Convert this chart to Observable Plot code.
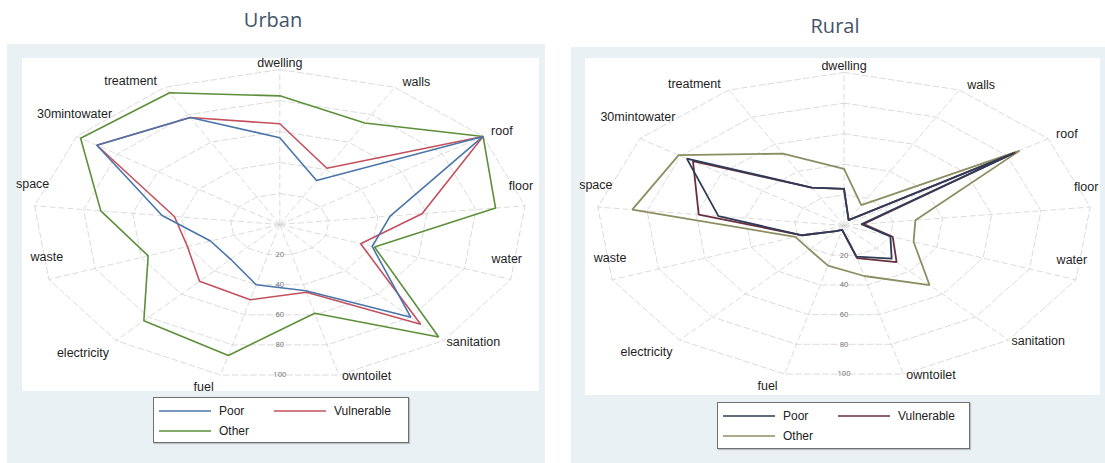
<!DOCTYPE html>
<html><head><meta charset="utf-8">
<script src="https://cdn.jsdelivr.net/npm/d3@7"></script>
<script src="https://cdn.jsdelivr.net/npm/@observablehq/plot@0.6"></script>
<style>
body{margin:0;background:#fff;width:1105px;height:463px;position:relative;overflow:hidden;font-family:"Liberation Sans",Arial,sans-serif;}
.title{position:absolute;font-family:"Open Sans",sans-serif;font-size:20px;color:#44546a;transform:translate(-50%,-50%);white-space:nowrap}
.panel{position:absolute;background:#eaf1f4;}
.plotbox{position:absolute;}
.legend{position:absolute;background:#fff;border:1px solid #707070;box-shadow:1px 1px 1px rgba(0,0,0,0.2);box-sizing:border-box}
</style></head><body>
<script>
// ---- data ----
const axes = ["dwelling","walls","roof","floor","water","sanitation","owntoilet","fuel","electricity","waste","space","30mintowater","treatment"];
const seriesNames = ["Poor","Vulnerable","Other"];
const ringTicks = [20,40,60,80,100];
const panelTitles = ["Urban","Rural"];

const urbanPoor       = [56,32,100,45,40,80,44,40,30,30,48,90,78];
const urbanVulnerable = [65,41,100,58,35,86,45,50,49,40,43,90,78];
const urbanOther      = [83,74,100,88,41,97,59,87,83,57,73,98,96];

const ruralPoor       = [24,4,83,7,20,29,21,3,5,18,51,77,28];
const ruralVulnerable = [24,4,84,8,21,32,22,3,5,18,59,74,28];
const ruralOther      = [37,15,86,29,30,52,34,27,21,21,86,81,53];

// ---- layout / styles ----
const layouts = [
  {bg:{left:7,top:44,width:538,height:419},
   plot:{left:21.7,top:58,width:517,height:333,ml:10.3,mr:12.7,mt:11,mb:12},
   title:{x:273,y:19},
   legend:{left:152.7,top:397.3,width:256,height:46},
   colors:["#4a75aa","#c4505e","#5c8f3a"], lw:1.6},
  {bg:{left:571,top:47,width:534,height:416},
   plot:{left:585,top:58,width:515,height:337,ml:10.5,mr:8.5,mt:14,mb:17},
   title:{x:835,y:25},
   legend:{left:716.7,top:401.7,width:253,height:47},
   colors:["#2f3b57","#6a2f3e","#8c8e62"], lw:1.8}
];
const labelStyles = {
  top:{textAnchor:"middle",dx:0,dy:-7},
  ur:{textAnchor:"start",dx:8,dy:-5},
  rside:{textAnchor:"middle",dx:-4,dy:-20},
  lr:{textAnchor:"start",dx:3,dy:1},
  ll:{textAnchor:"end",dx:-7,dy:12},
  lside:{textAnchor:"middle",dx:-2,dy:-22},
  ul:{textAnchor:"end",dx:-8,dy:-6}
};
function labelRule(deg){
  if (deg < 10 || deg > 350) return "top";
  if (deg < 70) return "ur";
  if (deg < 120) return "rside";
  if (deg < 180) return "lr";
  if (deg < 245) return "ll";
  if (deg < 315) return "lside";
  return "ul";
}

function radar(valuesBySeries, L){
  const n = axes.length;
  const ang = i => 2*Math.PI*i/n;
  const drawOrder = [2,1,0];
  const pts = [];
  drawOrder.forEach(k => {
    const vals = valuesBySeries[k];
    for (let i = 0; i <= n; i++){
      const j = i % n;
      pts.push({series:seriesNames[k], axis:axes[j], value:vals[j],
        x: vals[j]/100*Math.sin(ang(j)), y: vals[j]/100*Math.cos(ang(j))});
    }
  });
  const rings = [];
  ringTicks.forEach(t => { for (let i=0;i<=n;i++){ const j=i%n;
    rings.push({t, x:t/100*Math.sin(ang(j)), y:t/100*Math.cos(ang(j))}); } });
  const spokes = axes.map((a,i)=>({axis:a, x:Math.sin(ang(i)), y:Math.cos(ang(i))}));
  const tickLabels = ringTicks.map(t => ({t, x:0, y:-t/100*Math.cos(Math.PI/n)}));
  const labels = axes.map((a,i)=>({axis:a, x:Math.sin(ang(i)), y:Math.cos(ang(i)), cat:labelRule(ang(i)*180/Math.PI)}));
  const labelMarks = Object.entries(labelStyles).map(([cat,s]) =>
    Plot.text(labels.filter(d=>d.cat===cat), {x:"x", y:"y", text:"axis", textAnchor:s.textAnchor, dx:s.dx, dy:s.dy,
      fontSize:12.5, fill:"#1e1e1e", fontFamily:"Liberation Sans, Arial, sans-serif"}));
  const P = L.plot;
  return Plot.plot({
    width:P.width, height:P.height,
    marginLeft:P.ml, marginRight:P.mr, marginTop:P.mt, marginBottom:P.mb,
    x:{domain:[-1,1], axis:null}, y:{domain:[-1,1], axis:null},
    color:{domain:seriesNames, range:L.colors},
    style:{background:"#fff", overflow:"visible"},
    marks:[
      Plot.line(rings, {x:"x", y:"y", z:"t", stroke:"#d2d2d2", strokeWidth:0.8, strokeDasharray:"6,3"}),
      Plot.link(spokes, {x1:()=>0, y1:()=>0, x2:"x", y2:"y", stroke:"#d2d2d2", strokeWidth:0.8, strokeDasharray:"6,3"}),
      Plot.text(tickLabels, {x:"x", y:"y", text:d=>String(d.t), fontSize:7.5, fill:"#777"}),
      Plot.line(pts, {x:"x", y:"y", z:"series", stroke:"series", strokeWidth:L.lw, strokeLinejoin:"miter"}),
      ...labelMarks
    ]
  });
}

function legend(L){
  const ns = "http://www.w3.org/2000/svg";
  const div = document.createElement("div");
  div.className = "legend";
  Object.assign(div.style, {left:L.legend.left+"px", top:L.legend.top+"px", width:L.legend.width+"px", height:L.legend.height+"px"});
  const svg = document.createElementNS(ns,"svg");
  svg.setAttribute("width", L.legend.width-2); svg.setAttribute("height", L.legend.height-2);
  svg.style.display = "block";
  const slots = [{x:5,y:13},{x:120,y:13},{x:5,y:33}];
  seriesNames.forEach((s,k)=>{
    const p = slots[k];
    const ln = document.createElementNS(ns,"line");
    ln.setAttribute("x1",p.x); ln.setAttribute("x2",p.x+52); ln.setAttribute("y1",p.y); ln.setAttribute("y2",p.y);
    ln.setAttribute("stroke",L.colors[k]); ln.setAttribute("stroke-width",1.4);
    svg.appendChild(ln);
    const tx = document.createElementNS(ns,"text");
    tx.setAttribute("x",p.x+60); tx.setAttribute("y",p.y); tx.setAttribute("dy","0.35em");
    tx.setAttribute("font-size","12"); tx.setAttribute("fill","#222");
    tx.setAttribute("font-family","Liberation Sans, Arial, sans-serif");
    tx.textContent = s;
    svg.appendChild(tx);
  });
  div.appendChild(svg);
  return div;
}

const allValues = [[urbanPoor,urbanVulnerable,urbanOther],[ruralPoor,ruralVulnerable,ruralOther]];
layouts.forEach((L,i)=>{
  const bg = document.createElement("div");
  bg.className = "panel";
  Object.assign(bg.style,{left:L.bg.left+"px",top:L.bg.top+"px",width:L.bg.width+"px",height:L.bg.height+"px"});
  document.body.appendChild(bg);
  const box = document.createElement("div");
  box.className = "plotbox";
  Object.assign(box.style,{left:L.plot.left+"px",top:L.plot.top+"px"});
  box.appendChild(radar(allValues[i], L));
  document.body.appendChild(box);
  const t = document.createElement("div");
  t.className = "title";
  Object.assign(t.style,{left:L.title.x+"px",top:L.title.y+"px"});
  t.textContent = panelTitles[i];
  document.body.appendChild(t);
  document.body.appendChild(legend(L));
});
</script>
</body></html>
